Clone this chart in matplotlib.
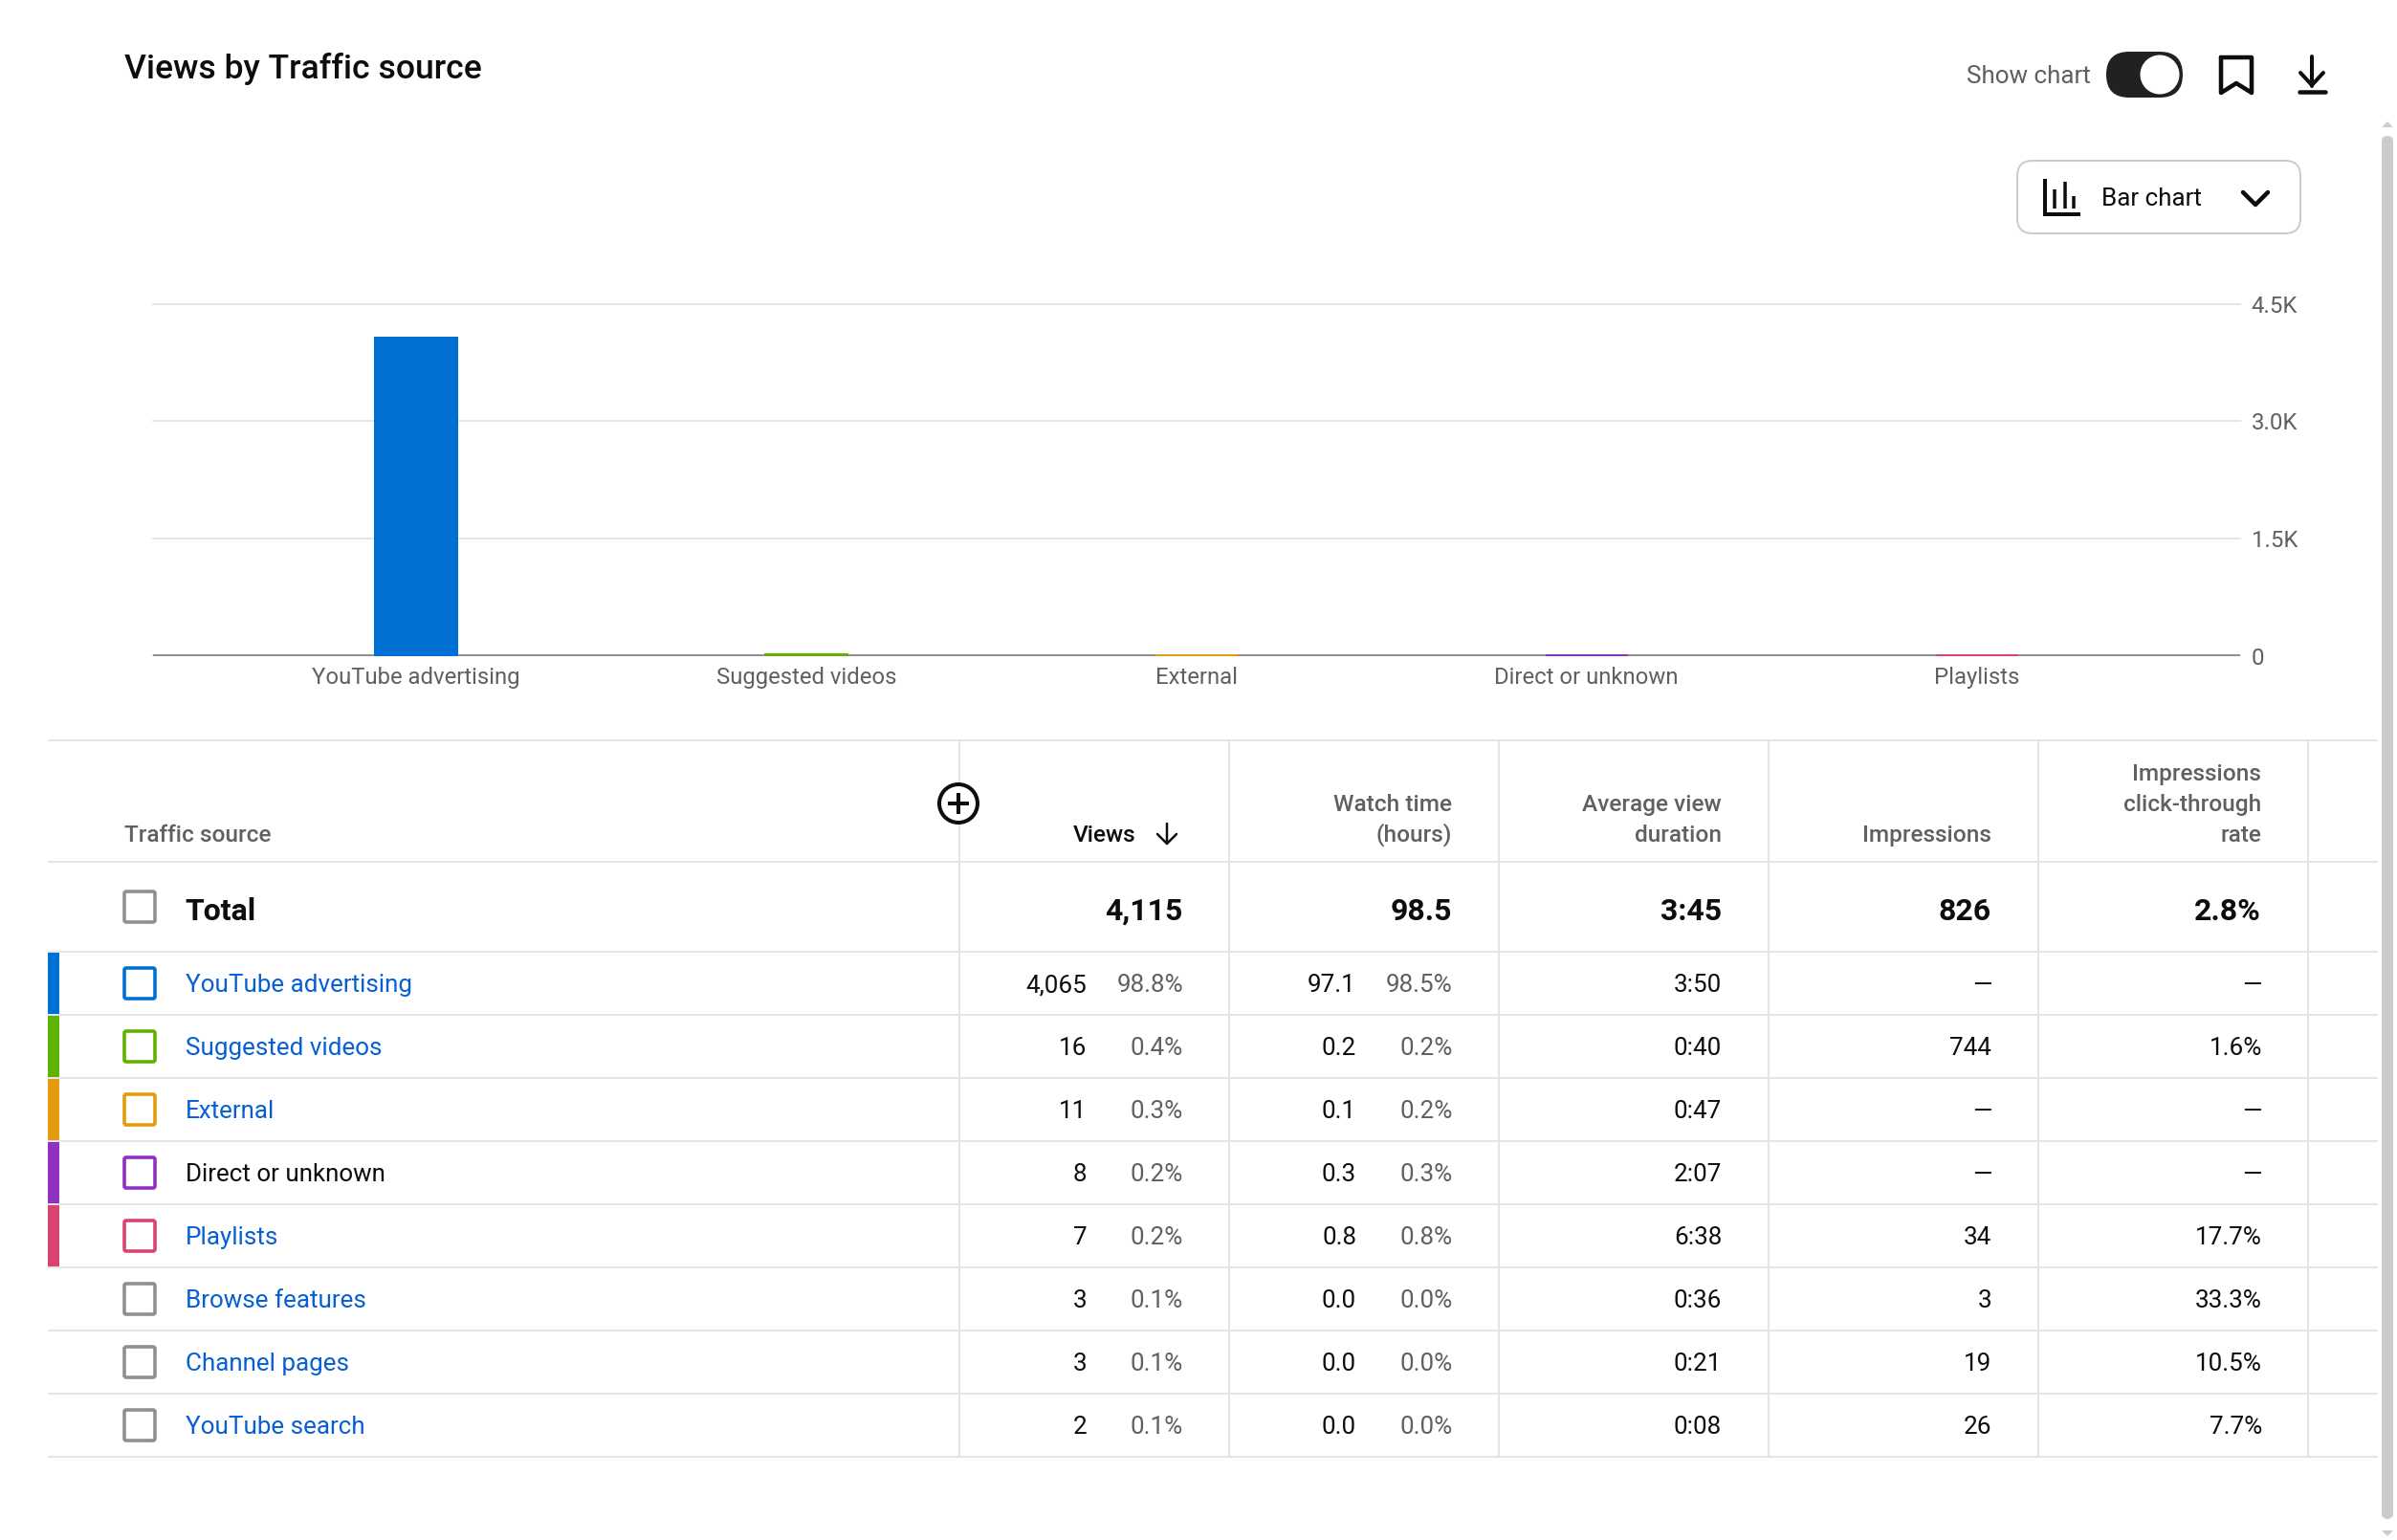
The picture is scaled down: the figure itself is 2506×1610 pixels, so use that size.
import matplotlib
matplotlib.use("Agg")
import matplotlib.pyplot as plt
from matplotlib.patches import FancyBboxPatch, Circle, Rectangle, Polygon

W, H = 2506, 1610
PX = 0.72  # points per pixel at dpi 100
plt.rcParams['font.family'] = ['Roboto', 'DejaVu Sans']

# ---------- data ----------
title = "Views by Traffic source"
categories = ["YouTube advertising", "Suggested videos", "External", "Direct or unknown", "Playlists"]
chart_values = [4065, 16, 11, 8, 7]
series_colors = ["#0070D4", "#60B200", "#E69A10", "#9030C0", "#D9446E"]
y_ticks = [0, 1500, 3000, 4500]
y_tick_labels = ["0", "1.5K", "3.0K", "4.5K"]

sources = ["YouTube advertising", "Suggested videos", "External", "Direct or unknown",
           "Playlists", "Browse features", "Channel pages", "YouTube search"]
views = ["4,065", "16", "11", "8", "7", "3", "3", "2"]
views_pct = ["98.8%", "0.4%", "0.3%", "0.2%", "0.2%", "0.1%", "0.1%", "0.1%"]
watch = ["97.1", "0.2", "0.1", "0.3", "0.8", "0.0", "0.0", "0.0"]
watch_pct = ["98.5%", "0.2%", "0.2%", "0.3%", "0.8%", "0.0%", "0.0%", "0.0%"]
duration = ["3:50", "0:40", "0:47", "2:07", "6:38", "0:36", "0:21", "0:08"]
impressions = ["—", "744", "—", "—", "34", "3", "19", "26"]
ctr = ["—", "1.6%", "—", "—", "17.7%", "33.3%", "10.5%", "7.7%"]
totals = ["4,115", "98.5", "3:45", "826", "2.8%"]
headers = [["Views"], ["Watch time", "(hours)"], ["Average view", "duration"],
           ["Impressions"], ["Impressions", "click-through", "rate"]]

# ---------- colours ----------
INK = "#0D0D0D"; GREY = "#606060"; LINE = "#E5E5E5"; LINK = "#065FD4"; BOX = "#909090"; BAR = "#CCCCCC"

fig = plt.figure(figsize=(W / 100, H / 100), dpi=100, facecolor="white")

# ---------- bar chart ----------
L, R, T, B = 160, 2342, 317.5, 685.5
ax = fig.add_axes([L / W, 1 - B / H, (R - L) / W, (B - T) / H])
ax.patch.set_alpha(0)
spacing = 407.9
centre = 435
ax.set_xlim((L - centre) / spacing, (R - centre) / spacing)
ax.set_ylim(0, 4500)
bars = ax.bar(range(len(categories)), chart_values, width=86 / spacing, color=series_colors,
              edgecolor=series_colors, linewidth=2 * PX, zorder=3)
for b in bars:
    b.set_clip_on(False)
for s in ax.spines.values():
    s.set_visible(False)
ax.spines['bottom'].set_visible(True)
ax.spines['bottom'].set_color("#909090")
ax.spines['bottom'].set_linewidth(2 * PX)
ax.spines['bottom'].set_zorder(2)
ax.spines['bottom'].set_capstyle('butt')
ax.set_yticks(y_ticks, y_tick_labels)
ax.set_xticks(range(len(categories)), categories)
ax.yaxis.tick_right()
ax.tick_params(axis='y', length=0, pad=11.5 * PX, labelsize=24 * PX, labelcolor=GREY)
ax.tick_params(axis='x', length=0, pad=8, labelsize=23.9 * PX, labelcolor=GREY)
ax.grid(axis='y', color=LINE, linewidth=2 * PX, zorder=0)
for g in ax.get_ygridlines():
    g.set_clip_on(False)
ax.set_axisbelow(True)

# ---------- overlay in pixel coordinates ----------
ov = fig.add_axes([0, 0, 1, 1], zorder=5)
ov.set_xlim(0, W); ov.set_ylim(H, 0); ov.axis('off'); ov.patch.set_alpha(0)


def txt(x, y, s, size, color=INK, ha='left', weight='normal'):
    ov.text(x, y, s, fontsize=size * PX, color=color, ha=ha, va='baseline', fontweight=weight)


def line(xs, ys, color=INK, lw=3.0, cap='round', join='round', z=3):
    ov.plot(xs, ys, color=color, lw=lw * PX, solid_capstyle=cap, solid_joinstyle=join, zorder=z)


txt(130, 82, title, 35.5, INK, weight=500)

# toolbar
txt(2186, 87, "Show chart", 26, GREY, ha='right')
ov.add_patch(FancyBboxPatch((2226, 78), 32, 0, boxstyle="round,pad=24,rounding_size=24",
                            fc="#212121", ec="none", zorder=2))
ov.add_patch(Circle((2258, 78), 20.5, fc="white", ec="none", zorder=3))
line([2322, 2354, 2354, 2338, 2322, 2322], [60, 60, 97, 87, 97, 60], lw=4.5)
line([2417, 2417], [59, 90], lw=4)
line([2405, 2417, 2429], [76, 89, 76], lw=4)
line([2404, 2431], [96, 96], lw=4.5)

# dropdown
ov.add_patch(FancyBboxPatch((2125, 184), 264, 44, boxstyle="round,pad=16,rounding_size=16",
                            fc="white", ec=BAR, lw=2 * PX, zorder=2))
line([2138, 2138, 2175], [187, 224, 224], lw=4, cap='butt', join='miter')
for bx, by in [(2148, 198), (2159, 190), (2168, 205)]:
    line([bx, bx], [by, 218], lw=3.5, cap='butt')
txt(2197, 215, "Bar chart", 26)
line([2345, 2358, 2371], [201, 214, 201], lw=4.5)

# scrollbar
ov.add_patch(FancyBboxPatch((2496, 148), 0, 1434, boxstyle="round,pad=6,rounding_size=6", fc=BAR, ec="none"))
ov.add_patch(Polygon([[2490, 133], [2496, 127], [2502, 133]], fc=BAR, ec="none"))
ov.add_patch(Polygon([[2490, 1600], [2496, 1606], [2502, 1600]], fc=BAR, ec="none"))

# table grid
X0, X1 = 50, 2486
col_x = [1003, 1285, 1567, 1849, 2131, 2413]
row_y = [774, 901, 995, 1061, 1127, 1193, 1259, 1325, 1391, 1457, 1523]
for y in row_y:
    line([X0, X1], [y, y], LINE, 2, cap='butt', z=1)
for x in col_x:
    line([x, x], [row_y[0], row_y[-1]], LINE, 2, cap='butt', z=1)

# header
txt(130, 880, "Traffic source", 24.4, GREY, weight=500)
col_right = [1237, 1518, 1800, 2082, 2364]
for ci, (hdr, xr) in enumerate(zip(headers, col_right)):
    n = len(hdr)
    for i, s in enumerate(hdr):
        y = 880 - 32 * (n - 1 - i)
        if ci == 0:
            txt(1187, y, s, 24.4, INK, ha='right', weight=500)
        else:
            txt(xr, y, s, 24.4, GREY, ha='right', weight=500)
line([1220, 1220], [861, 882], lw=2.5)
line([1210, 1220, 1230], [872, 882, 872], lw=2.5)
ov.add_patch(Circle((1002, 840), 20, fc="white", ec=INK, lw=4 * PX, zorder=4))
ov.plot([993, 1011], [840, 840], color=INK, lw=4 * PX, zorder=5)
ov.plot([1002, 1002], [831, 849], color=INK, lw=4 * PX, zorder=5)


def checkbox(yc, color):
    ov.add_patch(FancyBboxPatch((134, yc - 12), 24, 24, boxstyle="round,pad=4,rounding_size=2",
                                fc="white", ec=color, lw=3.6 * PX, zorder=3))


# total row
checkbox(948, BOX)
txt(193, 962, "Total", 32, INK, weight='bold')
for s, xr in zip(totals, col_right):
    txt(xr, 962, s, 32, INK, ha='right', weight='bold')

# body rows
for i, src in enumerate(sources):
    top = row_y[2 + i]
    yc = top + 33
    base = top + 42
    if i < len(series_colors):
        ov.add_patch(Rectangle((X0, top + 1), 12, 64, fc=series_colors[i], ec="none", zorder=2))
    checkbox(yc, series_colors[i] if i < len(series_colors) else BOX)
    txt(194, base, src, 26, INK if src == "Direct or unknown" else LINK)
    txt(1136.5, base, views[i], 26, ha='right')
    txt(1237, base, views_pct[i], 26, GREY, ha='right')
    txt(1418, base, watch[i], 26, ha='right')
    txt(1519, base, watch_pct[i], 26, GREY, ha='right')
    txt(1800, base, duration[i], 26, ha='right')
    txt(2082, base, impressions[i], 26, ha='right')
    txt(2365, base, ctr[i], 26, ha='right')

fig.savefig("out.png", dpi=100, facecolor="white")
